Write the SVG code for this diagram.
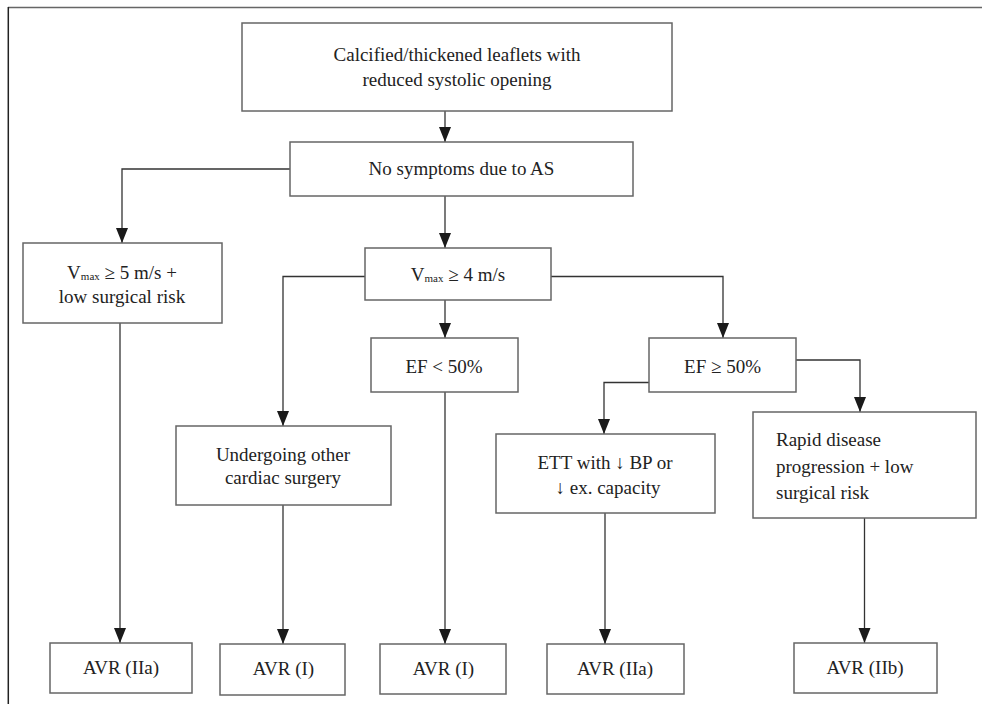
<svg xmlns="http://www.w3.org/2000/svg" width="982" height="704" viewBox="0 0 982 704">
<style>
.box{fill:#fff;stroke:#666;stroke-width:1.5}
.t{font-family:"Liberation Serif","Times New Roman",serif;font-size:19px;fill:#222;text-anchor:middle}
.tl{text-anchor:start}
.c{fill:none;stroke:#333;stroke-width:1.3}
.sub{font-size:11px}
</style>
<defs>
<marker id="ah" markerUnits="userSpaceOnUse" markerWidth="15" markerHeight="13" refX="15" refY="6" orient="auto">
<path d="M0,0 L15,6 L0,12 z" fill="#1a1a1a"/>
</marker>
</defs>
<rect width="982" height="704" fill="#fff"/>
<g id="frame">
<line x1="8" y1="7.5" x2="982" y2="7.5" stroke="#666" stroke-width="1.5"/>
<line x1="8.3" y1="7" x2="8.3" y2="704" stroke="#222" stroke-width="1.5"/>
</g>
<g id="connectors">
<path class="c" d="M445,111 V142" marker-end="url(#ah)"/>
<path class="c" d="M290,169 H122 V243" marker-end="url(#ah)"/>
<path class="c" d="M445,196 V248" marker-end="url(#ah)"/>
<path class="c" d="M365,276.5 H283 V426" marker-end="url(#ah)"/>
<path class="c" d="M445,300 V338" marker-end="url(#ah)"/>
<path class="c" d="M551,276.5 H723 V338" marker-end="url(#ah)"/>
<path class="c" d="M649,382.5 H604 V434" marker-end="url(#ah)"/>
<path class="c" d="M796,360 H860 V412" marker-end="url(#ah)"/>
<path class="c" d="M120,323 V643" marker-end="url(#ah)"/>
<path class="c" d="M283,505 V644" marker-end="url(#ah)"/>
<path class="c" d="M445,392 V644" marker-end="url(#ah)"/>
<path class="c" d="M605,513 V644" marker-end="url(#ah)"/>
<path class="c" d="M864.5,518 V643" marker-end="url(#ah)"/>
</g>
<g id="n-top">
<rect class="box" x="242" y="23" width="430" height="88"/>
<text class="t" x="457" y="61">Calcified/thickened leaflets with</text>
<text class="t" x="457" y="86">reduced systolic opening</text>
</g>
<g id="n-nosym">
<rect class="box" x="290" y="142" width="343" height="54"/>
<text class="t" x="461.5" y="175">No symptoms due to AS</text>
</g>
<g id="n-vmax5">
<rect class="box" x="23" y="243" width="199" height="80"/>
<text class="t" x="122" y="279">V<tspan class="sub" dy="1">max</tspan><tspan dy="-1"> ≥ 5 m/s +</tspan></text>
<text class="t" x="122" y="303">low surgical risk</text>
</g>
<g id="n-vmax4">
<rect class="box" x="365" y="248" width="186" height="52"/>
<text class="t" x="458" y="281">V<tspan class="sub" dy="1">max</tspan><tspan dy="-1"> ≥ 4 m/s</tspan></text>
</g>
<g id="n-eflow">
<rect class="box" x="371" y="338" width="147" height="54"/>
<text class="t" x="444" y="373">EF &lt; 50%</text>
</g>
<g id="n-efhigh">
<rect class="box" x="649" y="338" width="147" height="54"/>
<text class="t" x="722.5" y="373">EF ≥ 50%</text>
</g>
<g id="n-surgery">
<rect class="box" x="176" y="426" width="215" height="79"/>
<text class="t" x="283" y="461">Undergoing other</text>
<text class="t" x="283" y="484">cardiac surgery</text>
</g>
<g id="n-ett">
<rect class="box" x="496" y="434" width="219" height="79"/>
<text class="t" x="605" y="469">ETT with ↓ BP or</text>
<text class="t" x="608" y="494">↓ ex. capacity</text>
</g>
<g id="n-rapid">
<rect class="box" x="753" y="412" width="223" height="106"/>
<text class="t tl" x="776" y="446">Rapid disease</text>
<text class="t tl" x="776" y="473">progression + low</text>
<text class="t tl" x="776" y="499">surgical risk</text>
</g>
<g id="n-avr1">
<rect class="box" x="50" y="643" width="142" height="50"/>
<text class="t" x="121" y="674">AVR (IIa)</text>
</g>
<g id="n-avr2">
<rect class="box" x="220" y="644" width="125" height="51"/>
<text class="t" x="283.5" y="675">AVR (I)</text>
</g>
<g id="n-avr3">
<rect class="box" x="380" y="644" width="126" height="50"/>
<text class="t" x="443.5" y="675">AVR (I)</text>
</g>
<g id="n-avr4">
<rect class="box" x="547" y="644" width="137" height="50"/>
<text class="t" x="615" y="675">AVR (IIa)</text>
</g>
<g id="n-avr5">
<rect class="box" x="794" y="643" width="143" height="50"/>
<text class="t" x="865" y="674">AVR (IIb)</text>
</g>
</svg>
